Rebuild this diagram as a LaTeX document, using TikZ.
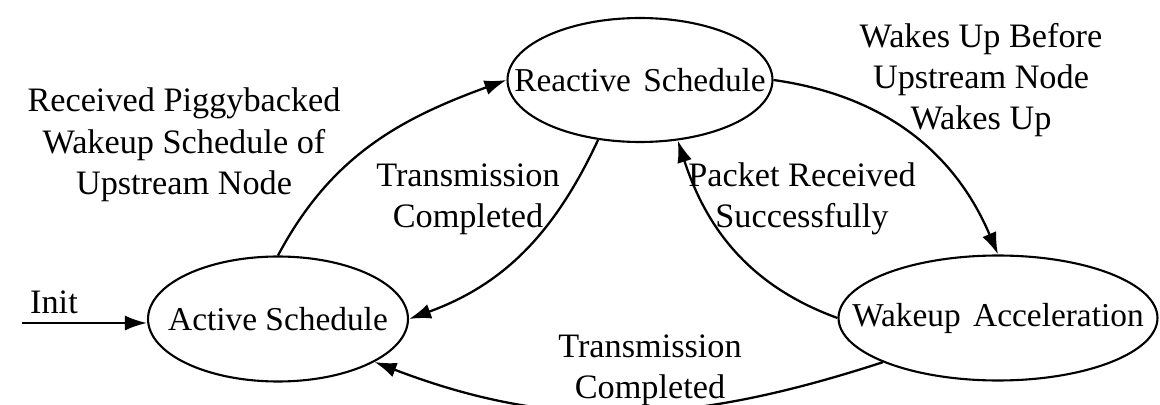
\documentclass[tikz,border=0pt]{standalone}
\usepackage{fontspec}
\setmainfont{Liberation Serif}
\usetikzlibrary{shapes.geometric,arrows.meta}
\newcommand{\statename}[1]{\makebox[0pt]{#1}}

\begin{document}
\begin{tikzpicture}[x=0.02cm, y=-0.02cm, every node/.style={font=\fontsize{19.5}{23.5}\selectfont}]
			\tikzstyle{state}=[ellipse,draw,line width=1.2pt,inner sep=0pt,minimum height=2.5cm,font=\fontsize{19}{23}\selectfont]
			\tikzstyle{trans}=[-{Latex[length=0.44cm,width=0.3cm]},line width=1.3pt]
			\tikzstyle{lbl}=[align=center,inner sep=0pt]
			\clip (0,0) rectangle (1160,405);
			\node[state,minimum width=5.2cm](active) at (278,319){\statename{Active Schedule}};
			\node[state,minimum width=5.3cm,minimum height=2.48cm](reactive) at (640,80){\statename{Reactive\hspace{0.12em} Schedule}};
			\node[state,minimum width=6.38cm](wakeup) at (998,318){\statename{Wakeup\hspace{0.12em} Acceleration}};
			\coordinate (start) at (22,323);
			\node[lbl](init) at (54,302){Init};
			\node[lbl](piggy) at (184,145){Received Piggybacked\\Wakeup Schedule of\\Upstream Node};
			\node[lbl](txdone) at (468,199){Transmission\\Completed};
			\node[lbl](rxok) at (802,199){Packet Received\\Successfully};
			\node[lbl](before) at (981,80){Wakes Up Before\\Upstream Node\\Wakes Up};
			\node[lbl](txdone2) at (650,370){Transmission\\Completed};
			\draw[trans] (start) -- (start -| active.west);
			\path[trans] (active.north) edge[out=62,in=200] (reactive.west)
			(reactive.235) edge[out=245,in=20] (active.east)
			(reactive.east) edge[out=-8,in=113] (wakeup.north)
			(wakeup.west) edge[out=160,in=-72] (reactive.302)
			(wakeup.201) edge[out=198,in=-21] (active.-24);
			\end{tikzpicture}
\end{document}
